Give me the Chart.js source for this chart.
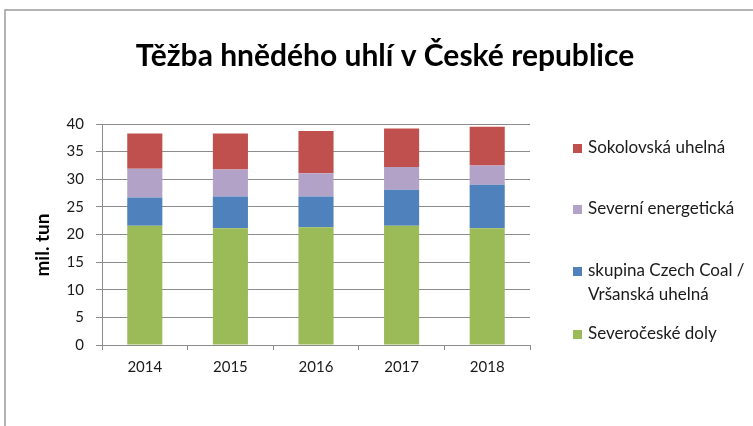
<!DOCTYPE html>
<html>
<head>
<meta charset="utf-8">
<script src="https://cdn.jsdelivr.net/npm/chart.js@4"></script>
<style>
  html, body { margin: 0; padding: 0; background: #fff; }
  #wrap { width: 753px; height: 426px; }
</style>
</head>
<body>
<div id="wrap"><canvas id="coalChart" width="753" height="426"></canvas></div>
<script>
// data (mil. tun)
const years = ['2014', '2015', '2016', '2017', '2018'];
const severoceske = [21.6, 21.15, 21.3, 21.6, 21.15];
const czechCoal = [5.1, 5.75, 5.6, 6.5, 7.85];
const severniEnergeticka = [5.2, 4.85, 4.2, 4.1, 3.5];
const sokolovska = [6.4, 6.55, 7.65, 7.0, 7.0];
const yTicks = [0, 5, 10, 15, 20, 25, 30, 35, 40];

const FONT = 'Lato, "Open Sans", sans-serif';
const GRID = '#8c8c8c';

// title, axis title, frame and legend drawn on top
const extrasPlugin = {
  id: 'extras',
  afterDraw(chart) {
    const ctx = chart.ctx;
    ctx.save();
    // outer frame
    ctx.strokeStyle = '#9a9a9a';
    ctx.lineWidth = 1.5;
    ctx.strokeRect(5, 10, 800, 500);

    ctx.fillStyle = '#000';
    ctx.font = 'bold 30px ' + FONT;
    ctx.textAlign = 'center';
    ctx.textBaseline = 'alphabetic';
    ctx.fillText('Těžba hnědého uhlí v České republice', 385, 66);

    // y axis title
    ctx.save();
    ctx.translate(43, 245);
    ctx.rotate(-Math.PI / 2);
    ctx.textBaseline = 'middle';
    ctx.font = 'bold 19px ' + FONT;
    ctx.fillText('mil. tun', 0, 0);
    ctx.restore();

    // legend, top to bottom reversed order of stacking
    const items = [
      { ds: 3, lines: ['Sokolovská uhelná'], y: 148 },
      { ds: 2, lines: ['Severní energetická'], y: 209 },
      { ds: 1, lines: ['skupina Czech Coal /', 'Vršanská uhelná'], y: 271 },
      { ds: 0, lines: ['Severočeské doly'], y: 334 }
    ];
    ctx.font = '17px ' + FONT;
    ctx.textAlign = 'left';
    ctx.textBaseline = 'middle';
    items.forEach(it => {
      const ds = chart.data.datasets[it.ds];
      ctx.fillStyle = ds.backgroundColor;
      ctx.fillRect(573, it.y - 4, 9, 9);
      ctx.fillStyle = '#1a1a1a';
      it.lines.forEach((ln, i) => ctx.fillText(ln, 588, it.y + i * 24));
    });
    ctx.restore();
  }
};

new Chart(document.getElementById('coalChart'), {
  type: 'bar',
  data: {
    labels: years,
    datasets: [
      { label: 'Severočeské doly', data: severoceske, backgroundColor: '#9BBB59' },
      { label: 'skupina Czech Coal / Vršanská uhelná', data: czechCoal, backgroundColor: '#4F81BD' },
      { label: 'Severní energetická', data: severniEnergeticka, backgroundColor: '#B3A2C7' },
      { label: 'Sokolovská uhelná', data: sokolovska, backgroundColor: '#C0504D' }
    ]
  },
  options: {
    responsive: false,
    animation: false,
    layout: { padding: { left: 0, right: 223, top: 124, bottom: 51 } },
    datasets: { bar: { categoryPercentage: 1, barPercentage: 0.41, borderWidth: 0 } },
    plugins: {
      legend: { display: false },
      tooltip: { enabled: false },
      title: { display: false }
    },
    scales: {
      x: {
        stacked: true,
        afterFit(scale) { scale.height = 30; },
        grid: { drawOnChartArea: false, drawTicks: true, tickLength: 5, offset: true, color: GRID },
        border: { color: GRID, width: 1 },
        ticks: { color: '#1a1a1a', font: { family: FONT, size: 15 }, padding: 8 }
      },
      y: {
        stacked: true,
        min: 0,
        max: 40,
        afterFit(scale) { scale.width = 102; },
        afterBuildTicks(scale) { scale.ticks = yTicks.map(v => ({ value: v })); },
        grid: { color: GRID, tickLength: 6 },
        border: { color: GRID, width: 1 },
        ticks: { color: '#1a1a1a', font: { family: FONT, size: 15 }, padding: 12 }
      }
    }
  },
  plugins: [extrasPlugin]
});
</script>
</body>
</html>
